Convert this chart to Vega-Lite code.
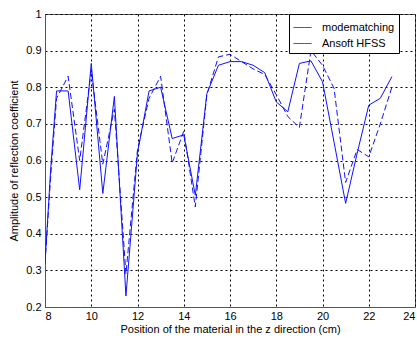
{
  "$schema": "https://vega.github.io/schema/vega-lite/v6.json",
  "width": 370,
  "height": 293,
  "autosize": {"type": "none"},
  "padding": {"left": 45, "top": 14, "right": 2, "bottom": 31},
  "background": "white",
  "config": {
    "view": {"stroke": "#555", "strokeWidth": 1},
    "font": "Liberation Sans",
    "axis": {
      "domainColor": "#555",
      "gridColor": "black",
      "gridDash": [2, 3],
      "gridOpacity": 1,
      "ticks": false,
      "labelFontSize": 11,
      "labelColor": "black",
      "titleFontSize": 11,
      "titleFontWeight": "normal",
      "titleColor": "black",
      "labelFont": "Liberation Sans",
      "titleFont": "Liberation Sans"
    },
    "legend": {
      "labelFont": "Liberation Sans",
      "labelFontSize": 11,
      "labelColor": "black"
    }
  },
  "data": {
    "values": [
      {"x": 8.0, "y": 0.32, "s": "modematching"},
      {"x": 8.25, "y": 0.58, "s": "modematching"},
      {"x": 8.5, "y": 0.79, "s": "modematching"},
      {"x": 9.0, "y": 0.79, "s": "modematching"},
      {"x": 9.5, "y": 0.52, "s": "modematching"},
      {"x": 10.0, "y": 0.865, "s": "modematching"},
      {"x": 10.5, "y": 0.51, "s": "modematching"},
      {"x": 11.0, "y": 0.775, "s": "modematching"},
      {"x": 11.5, "y": 0.23, "s": "modematching"},
      {"x": 12.0, "y": 0.62, "s": "modematching"},
      {"x": 12.5, "y": 0.79, "s": "modematching"},
      {"x": 13.0, "y": 0.8, "s": "modematching"},
      {"x": 13.5, "y": 0.66, "s": "modematching"},
      {"x": 14.0, "y": 0.67, "s": "modematching"},
      {"x": 14.5, "y": 0.505, "s": "modematching"},
      {"x": 15.0, "y": 0.783, "s": "modematching"},
      {"x": 15.5, "y": 0.86, "s": "modematching"},
      {"x": 16.0, "y": 0.87, "s": "modematching"},
      {"x": 16.5, "y": 0.87, "s": "modematching"},
      {"x": 17.0, "y": 0.86, "s": "modematching"},
      {"x": 17.5, "y": 0.84, "s": "modematching"},
      {"x": 18.0, "y": 0.76, "s": "modematching"},
      {"x": 18.5, "y": 0.733, "s": "modematching"},
      {"x": 19.0, "y": 0.865, "s": "modematching"},
      {"x": 19.5, "y": 0.872, "s": "modematching"},
      {"x": 20.0, "y": 0.815, "s": "modematching"},
      {"x": 20.5, "y": 0.65, "s": "modematching"},
      {"x": 21.0, "y": 0.483, "s": "modematching"},
      {"x": 21.5, "y": 0.62, "s": "modematching"},
      {"x": 22.0, "y": 0.751, "s": "modematching"},
      {"x": 22.5, "y": 0.77, "s": "modematching"},
      {"x": 23.0, "y": 0.829, "s": "modematching"},
      {"x": 8.0, "y": 0.32, "s": "Ansoft HFSS"},
      {"x": 8.25, "y": 0.56, "s": "Ansoft HFSS"},
      {"x": 8.5, "y": 0.77, "s": "Ansoft HFSS"},
      {"x": 9.0, "y": 0.83, "s": "Ansoft HFSS"},
      {"x": 9.5, "y": 0.6, "s": "Ansoft HFSS"},
      {"x": 10.0, "y": 0.845, "s": "Ansoft HFSS"},
      {"x": 10.5, "y": 0.59, "s": "Ansoft HFSS"},
      {"x": 11.0, "y": 0.74, "s": "Ansoft HFSS"},
      {"x": 11.5, "y": 0.29, "s": "Ansoft HFSS"},
      {"x": 12.0, "y": 0.63, "s": "Ansoft HFSS"},
      {"x": 12.5, "y": 0.77, "s": "Ansoft HFSS"},
      {"x": 13.0, "y": 0.83, "s": "Ansoft HFSS"},
      {"x": 13.5, "y": 0.593, "s": "Ansoft HFSS"},
      {"x": 14.0, "y": 0.68, "s": "Ansoft HFSS"},
      {"x": 14.5, "y": 0.473, "s": "Ansoft HFSS"},
      {"x": 15.0, "y": 0.78, "s": "Ansoft HFSS"},
      {"x": 15.5, "y": 0.883, "s": "Ansoft HFSS"},
      {"x": 16.0, "y": 0.89, "s": "Ansoft HFSS"},
      {"x": 16.5, "y": 0.87, "s": "Ansoft HFSS"},
      {"x": 17.0, "y": 0.85, "s": "Ansoft HFSS"},
      {"x": 17.5, "y": 0.835, "s": "Ansoft HFSS"},
      {"x": 18.0, "y": 0.78, "s": "Ansoft HFSS"},
      {"x": 18.5, "y": 0.72, "s": "Ansoft HFSS"},
      {"x": 19.0, "y": 0.69, "s": "Ansoft HFSS"},
      {"x": 19.5, "y": 0.9, "s": "Ansoft HFSS"},
      {"x": 20.0, "y": 0.86, "s": "Ansoft HFSS"},
      {"x": 20.5, "y": 0.797, "s": "Ansoft HFSS"},
      {"x": 21.0, "y": 0.54, "s": "Ansoft HFSS"},
      {"x": 21.5, "y": 0.63, "s": "Ansoft HFSS"},
      {"x": 22.0, "y": 0.61, "s": "Ansoft HFSS"},
      {"x": 22.5, "y": 0.7, "s": "Ansoft HFSS"},
      {"x": 23.0, "y": 0.8, "s": "Ansoft HFSS"}
    ]
  },
  "encoding": {
    "x": {
      "field": "x",
      "type": "quantitative",
      "scale": {"domain": [8, 24], "nice": false, "zero": false},
      "axis": {"values": [8, 10, 12, 14, 16, 18, 20, 22, 24], "title": "Position of the material in the z direction (cm)", "labelPadding": 3, "titlePadding": 2}
    },
    "y": {
      "field": "y",
      "type": "quantitative",
      "scale": {"domain": [0.2, 1], "nice": false, "zero": false},
      "axis": {"values": [0.2, 0.3, 0.4, 0.5, 0.6, 0.7, 0.8, 0.9, 1], "format": "~g", "title": "Amplitude of reflection coefficient", "labelPadding": 4, "titlePadding": 6}
    },
    "color": {
      "field": "s",
      "type": "nominal",
      "sort": ["modematching", "Ansoft HFSS"],
      "scale": {"domain": ["modematching", "Ansoft HFSS"], "range": ["#1010ff", "#1010ff"]},
      "legend": {
        "title": null,
        "orient": "none",
        "legendX": 244,
        "legendY": 0,
        "fillColor": "white",
        "strokeColor": "black",
        "padding": 4,
        "symbolType": "stroke",
        "symbolSize": 320,
        "symbolStrokeWidth": 1,
        "symbolDash": [1, 0],
        "rowPadding": 1,
        "labelOffset": 10,
        "labelLimit": 200
      }
    }
  },
  "layer": [
    {
      "transform": [{"filter": "datum.s == 'modematching'"}],
      "mark": {"type": "line", "strokeWidth": 1, "clip": true}
    },
    {
      "transform": [{"filter": "datum.s == 'Ansoft HFSS'"}],
      "mark": {"type": "line", "strokeWidth": 1, "clip": true, "strokeDash": [6, 3]}
    }
  ]
}
